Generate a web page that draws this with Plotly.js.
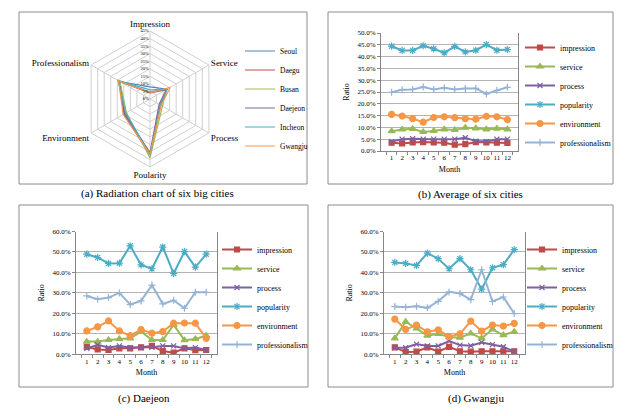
<!DOCTYPE html>
<html>
<head>
<meta charset="utf-8">
<script src="https://cdn.plot.ly/plotly-3.0.1.min.js"></script>
<style>
html, body { margin: 0; padding: 0; background: #fff; }
#chart { width: 639px; height: 416px; }
</style>
</head>
<body>
<div id="chart"></div>
<script>
// radar (a): six cities over six factors, in percent
var radarAxes = ['Impression', 'Service', 'Process', 'Poularity', 'Environment', 'Professionalism'];
var cities = ['Seoul', 'Daegu', 'Busan', 'Daejeon', 'Incheon', 'Gwangju'];
var seoul = [8, 13, 8, 37, 20, 23];
var daegu = [4.5, 13, 8, 36.5, 19, 23.5];
var busan = [4.5, 12.5, 9.5, 39, 18, 23];
var daejeon = [4, 12.5, 7, 35.5, 19.5, 24];
var incheon = [6, 13, 8, 37, 18.5, 24.5];
var gwangju = [4, 15.5, 8.5, 36.5, 20.5, 24];

// monthly ratios, percent
var months = ['1', '2', '3', '4', '5', '6', '7', '8', '9', '10', '11', '12'];
var metrics = ['impression', 'service', 'process', 'popularity', 'environment', 'professionalism'];

// (b) average of six cities
var impressionAvg = [3.5, 3.2, 3.6, 3.8, 3.6, 3.5, 2.7, 2.9, 3.8, 3.6, 3.5, 3.4];
var serviceAvg = [8.4, 9.1, 9.4, 8.1, 8.5, 9.2, 8.9, 9.9, 9.6, 9.2, 9.5, 9.2];
var processAvg = [4.0, 5.0, 5.2, 5.0, 5.0, 5.0, 5.0, 5.6, 4.2, 4.0, 5.0, 5.0];
var popularityAvg = [44.4, 42.6, 42.6, 44.6, 43.3, 41.6, 44.3, 42.0, 42.7, 45.1, 42.7, 43.0];
var environmentAvg = [15.5, 14.8, 13.7, 12.2, 14.2, 14.5, 14.1, 13.7, 13.5, 14.7, 14.5, 13.3];
var professionalismAvg = [24.9, 26.0, 26.1, 27.1, 26.1, 26.8, 26.1, 26.5, 26.5, 24.2, 25.7, 27.0];

// (c) Daejeon
var impressionDj = [3.6, 2.4, 2.1, 2.9, 2.9, 3.4, 4.1, 1.6, 0.8, 2.9, 2.0, 2.1];
var serviceDj = [6.2, 6.2, 7.0, 7.5, 7.8, 11.1, 7.0, 7.0, 14.4, 6.9, 7.5, 9.1];
var processDj = [2.9, 4.6, 3.3, 4.1, 3.3, 3.3, 3.4, 4.1, 4.1, 2.9, 3.3, 2.1];
var popularityDj = [48.9, 47.3, 44.4, 44.5, 53.0, 43.7, 41.8, 52.4, 39.5, 50.2, 42.6, 48.9];
var environmentDj = [11.4, 13.4, 16.3, 11.4, 9.1, 12.1, 10.3, 11.1, 15.2, 15.3, 15.2, 7.8];
var professionalismDj = [28.5, 26.9, 27.7, 30.0, 24.3, 26.1, 33.8, 24.6, 26.4, 22.5, 30.3, 30.3];

// (d) Gwangju
var impressionGj = [3.4, 1.1, 1.3, 3.4, 1.3, 3.6, 1.5, 1.3, 1.5, 1.5, 1.5, 1.5];
var serviceGj = [7.8, 15.9, 12.6, 9.1, 10.0, 8.4, 8.1, 10.2, 7.8, 12.2, 9.4, 11.0];
var processGj = [3.2, 3.2, 5.0, 4.1, 4.1, 6.5, 4.5, 4.2, 5.8, 4.7, 3.7, 1.3];
var popularityGj = [44.9, 44.4, 43.4, 49.4, 46.7, 41.8, 46.7, 41.3, 31.8, 42.3, 43.8, 51.1];
var environmentGj = [17.2, 12.2, 14.3, 11.0, 12.0, 8.6, 10.0, 16.2, 11.3, 14.3, 13.8, 15.1];
var professionalismGj = [23.3, 23.0, 23.5, 22.7, 25.9, 30.5, 29.7, 26.7, 41.3, 25.8, 28.0, 19.9];

// styles
var cityColors = ['#4F81BD', '#C0504D', '#9BBB59', '#8064A2', '#4BACC6', '#F79646'];
var metricColors = ['#BE4B48', '#98B954', '#7D60A0', '#4BACC6', '#F79646', '#95B3D7'];
var metricSymbols = ['square', 'triangle-up', 'x-thin-open', 'asterisk-open', 'circle', 'cross-thin-open'];
var metricSizes = [5, 6, 5, 6, 6, 5];

var W = 639, H = 416;
function px(x) { return x / W; }
function py(y) { return 1 - y / H; }

var data = [];

// radar traces, closed by repeating the first point
[seoul, daegu, busan, daejeon, incheon, gwangju].forEach(function (vals, i) {
    data.push({
        type: 'scatterpolar',
        r: vals.concat([vals[0]]),
        theta: radarAxes.concat([radarAxes[0]]),
        mode: 'lines',
        name: cities[i],
        line: { color: cityColors[i], width: 1.2 },
        legend: 'legend',
        hoverinfo: 'skip'
    });
});

function addPanel(series, xa, ya, leg) {
    series.forEach(function (vals, i) {
        data.push({
            type: 'scatter',
            x: months,
            y: vals,
            xaxis: xa,
            yaxis: ya,
            mode: 'lines+markers',
            name: metrics[i],
            legend: leg,
            line: { color: metricColors[i], width: 2 },
            marker: {
                symbol: metricSymbols[i],
                size: metricSizes[i],
                color: metricColors[i],
                line: { color: metricColors[i], width: 1.2 }
            },
            hoverinfo: 'skip'
        });
    });
}

addPanel([impressionAvg, serviceAvg, processAvg, popularityAvg, environmentAvg, professionalismAvg], 'x', 'y', 'legend2');
addPanel([impressionDj, serviceDj, processDj, popularityDj, environmentDj, professionalismDj], 'x2', 'y2', 'legend3');
addPanel([impressionGj, serviceGj, processGj, popularityGj, environmentGj, professionalismGj], 'x3', 'y3', 'legend4');

var axisGray = '#868686';

function xAxis(x0, x1, anchor) {
    return {
        domain: [px(x0), px(x1)], anchor: anchor,
        type: 'category', categoryarray: months,
        tickson: 'boundaries', ticks: 'outside', ticklen: 3, tickcolor: axisGray,
        tickangle: 0,
        showline: true, linecolor: axisGray, linewidth: 1,
        showgrid: false, zeroline: false,
        tickfont: { size: 7 },
        title: { text: 'Month', font: { size: 8 }, standoff: 4 },
        fixedrange: true
    };
}

function yAxis(y0, y1, anchor, top, step) {
    return {
        domain: [py(y1), py(y0)], anchor: anchor,
        range: [0, top], dtick: step, tickformat: '.1f', ticksuffix: '%',
        ticks: 'outside', ticklen: 3, tickcolor: axisGray,
        showline: true, mirror: true, linecolor: axisGray, linewidth: 1,
        showgrid: true, gridcolor: '#b3b3b3', zeroline: false,
        tickfont: { size: 7 },
        title: { text: 'Ratio', font: { size: 8 }, standoff: 6 },
        fixedrange: true
    };
}

function legendAt(x, y, size) {
    return {
        x: px(x), y: py(y), xanchor: 'left', yanchor: 'middle',
        bgcolor: 'rgba(0,0,0,0)', borderwidth: 0,
        font: { size: size }, tracegroupgap: 0
    };
}

function box(x0, y0, x1, y1) {
    return {
        type: 'rect', xref: 'paper', yref: 'paper',
        x0: px(x0), x1: px(x1), y0: py(y1), y1: py(y0),
        line: { color: '#8c8c8c', width: 1 }, layer: 'below'
    };
}

function caption(text, x, y) {
    return {
        text: text, xref: 'paper', yref: 'paper',
        x: px(x), y: py(y), xanchor: 'center', yanchor: 'middle',
        showarrow: false, font: { size: 11 }
    };
}

var layout = {
    width: W, height: H,
    margin: { l: 0, r: 0, t: 0, b: 0 },
    paper_bgcolor: '#fff', plot_bgcolor: '#fff',
    font: { family: '"Liberation Serif", "Times New Roman", serif', color: '#000' },
    polar: {
        domain: { x: [px(82), px(218)], y: [py(167), py(31)] },
        gridshape: 'linear',
        bgcolor: 'rgba(0,0,0,0)',
        angularaxis: {
            type: 'category', categoryarray: radarAxes,
            direction: 'clockwise', rotation: 90,
            showline: true, linecolor: '#d0d0d0', gridcolor: '#d0d0d0',
            ticks: '', tickfont: { size: 9 }
        },
        radialaxis: {
            range: [0, 45], dtick: 5, ticksuffix: '%',
            angle: 90, side: 'counterclockwise', tickangle: 90,
            showline: false, gridcolor: '#d0d0d0', ticks: '',
            tickfont: { size: 4.5 }
        }
    },
    xaxis: xAxis(381, 518, 'y'),
    yaxis: yAxis(33, 151, 'x', 50, 5),
    xaxis2: xAxis(76, 217, 'y2'),
    yaxis2: yAxis(231.5, 354.3, 'x2', 60, 10),
    xaxis3: xAxis(384, 525, 'y3'),
    yaxis3: yAxis(231.5, 354.3, 'x3', 60, 10),
    legend: legendAt(240, 98.5, 7.5),
    legend2: legendAt(520, 95, 8),
    legend3: legendAt(217, 297, 8),
    legend4: legendAt(522, 297, 8),
    shapes: [
        box(19, 12, 307, 184),
        box(328, 12, 613, 184),
        box(19, 205, 308, 387),
        box(328, 205, 613, 387)
    ],
    annotations: [
        caption('(a) Radiation chart of six big cities', 157.5, 193),
        caption('(b) Average of six cities', 470, 194),
        caption('(c) Daejeon', 144, 398),
        caption('(d) Gwangju', 476, 398)
    ]
};

Plotly.newPlot('chart', data, layout, { staticPlot: true, displayModeBar: false });
</script>
</body>
</html>
